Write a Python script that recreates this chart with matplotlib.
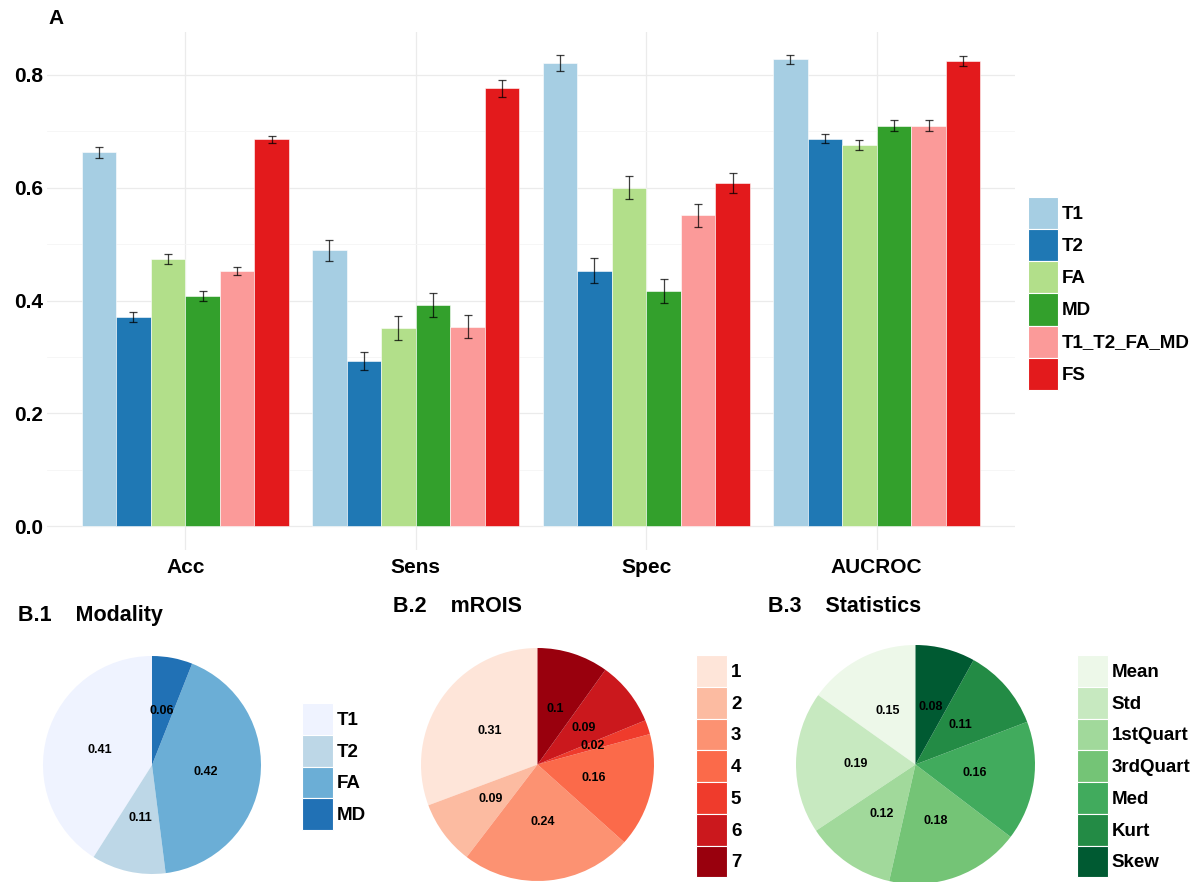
import matplotlib
matplotlib.use("Agg")
import matplotlib.pyplot as plt
import numpy as np
from matplotlib.patches import Patch

plt.rcParams['font.family'] = ['Liberation Sans', 'DejaVu Sans']
plt.rcParams['font.weight'] = 'bold'

W, H = 1199, 882

# panel A: classification metrics per feature set
metrics = ["Acc", "Sens", "Spec", "AUCROC"]
feature_sets = ["T1", "T2", "FA", "MD", "T1_T2_FA_MD", "FS"]
set_colors = ["#A6CEE3", "#1F78B4", "#B2DF8A", "#33A02C", "#FB9A99", "#E31A1C"]
means = {
    "T1":          [0.663, 0.489, 0.821, 0.828],
    "T2":          [0.371, 0.293, 0.453, 0.687],
    "FA":          [0.473, 0.351, 0.600, 0.675],
    "MD":          [0.408, 0.392, 0.417, 0.710],
    "T1_T2_FA_MD": [0.453, 0.354, 0.551, 0.710],
    "FS":          [0.686, 0.776, 0.608, 0.825],
}
errors = {
    "T1":          [0.010, 0.018, 0.014, 0.008],
    "T2":          [0.009, 0.016, 0.022, 0.008],
    "FA":          [0.009, 0.021, 0.020, 0.009],
    "MD":          [0.009, 0.021, 0.022, 0.010],
    "T1_T2_FA_MD": [0.007, 0.020, 0.021, 0.010],
    "FS":          [0.006, 0.015, 0.018, 0.009],
}

# panel B: feature importance shares
modality_names = ["T1", "T2", "FA", "MD"]
modality_vals = [0.41, 0.11, 0.42, 0.06]
modality_colors = ["#EFF3FF", "#BDD7E7", "#6BAED6", "#2171B5"]

roi_names = ["1", "2", "3", "4", "5", "6", "7"]
roi_vals = [0.31, 0.09, 0.24, 0.16, 0.02, 0.09, 0.1]
roi_colors = ["#FEE5D9", "#FCBBA1", "#FC9272", "#FB6A4A", "#EF3B2C", "#CB181D", "#99000D"]

stat_names = ["Mean", "Std", "1stQuart", "3rdQuart", "Med", "Kurt", "Skew"]
stat_vals = [0.15, 0.19, 0.12, 0.18, 0.16, 0.11, 0.08]
stat_colors = ["#EDF8E9", "#C7E9C0", "#A1D99B", "#74C476", "#41AB5D", "#238B45", "#005A32"]

fig = plt.figure(figsize=(W / 100, H / 100), dpi=100)

# ---- bar chart ----
ax = fig.add_axes([47 / W, 1 - 550 / H, (1015 - 47) / W, (550 - 32) / H])
x = np.arange(1, len(metrics) + 1)
bw = 0.15
for i, (name, col) in enumerate(zip(feature_sets, set_colors)):
    pos = x + (i - 2.5) * bw
    ax.bar(pos, means[name], width=bw, color=col, edgecolor="white",
           linewidth=0.4, zorder=2)
    ax.errorbar(pos, means[name], yerr=errors[name], fmt="none", ecolor="black",
                elinewidth=0.9, capsize=3.2, capthick=0.9, alpha=0.75, zorder=3)

ax.set_xlim(0.4, 4.6)
ax.set_ylim(-0.042, 0.876)
ax.set_xticks(x)
ax.set_xticklabels(metrics)
ax.set_yticks([0.0, 0.2, 0.4, 0.6, 0.8])
ax.set_yticklabels(["0.0", "0.2", "0.4", "0.6", "0.8"])
ax.set_yticks(np.arange(0.1, 0.9, 0.2), minor=True)
ax.grid(axis="y", which="major", color="#EBEBEB", linewidth=0.9, zorder=0)
ax.grid(axis="y", which="minor", color="#F5F5F5", linewidth=0.6, zorder=0)
ax.grid(axis="x", which="major", color="#EBEBEB", linewidth=0.9, zorder=0)
ax.tick_params(axis="both", which="both", length=0, labelsize=15)
ax.tick_params(axis="x", pad=6)
ax.tick_params(axis="y", pad=3)
for s in ax.spines.values():
    s.set_visible(False)
ax.set_axisbelow(True)

fig.text(48 / W, 1 - 18 / H, "A", fontsize=15, fontweight="bold", va="center")

handles = [Patch(facecolor=c, edgecolor="white", linewidth=0.8) for c in set_colors]
fig.legend(handles, feature_sets, loc="upper left",
           bbox_to_anchor=(1028 / W, 1 - 197 / H), frameon=False, fontsize=13.5,
           handlelength=1.61, handleheight=2.26, labelspacing=0,
           handletextpad=0.2, borderpad=0, borderaxespad=0)


# ---- pie charts ----
def pie_panel(cx, cy, r, vals, names, colors, title, tx, ty, lx, ltop):
    pax = fig.add_axes([(cx - r) / W, 1 - (cy + r) / H, 2 * r / W, 2 * r / H])
    pax.pie(vals, colors=colors, startangle=90, counterclock=True, radius=1,
            labels=[f"{v:g}" for v in vals], labeldistance=0.5,
            wedgeprops=dict(linewidth=0),
            textprops=dict(fontsize=9, fontweight="bold", ha="center",
                           va="center", color="black"))
    pax.set_xlim(-1, 1)
    pax.set_ylim(-1, 1)
    pax.axis("off")
    fig.text(tx / W, 1 - ty / H, title, fontsize=15.5, fontweight="bold", va="center")
    hs = [Patch(facecolor=c, edgecolor="white", linewidth=0.8) for c in colors]
    fig.legend(hs, names, loc="upper left", bbox_to_anchor=(lx / W, 1 - ltop / H),
               frameon=False, fontsize=13.5, handlelength=1.66, handleheight=2.23,
               labelspacing=0, handletextpad=0.2, borderpad=0, borderaxespad=0)


pie_panel(152, 765, 109, modality_vals, modality_names, modality_colors,
          "B.1    Modality", 18, 616, 302, 703)
pie_panel(537.5, 764.5, 116.5, roi_vals, roi_names, roi_colors,
          "B.2    mROIS", 393, 606, 696, 655)
pie_panel(915.5, 764.5, 119.5, stat_vals, stat_names, stat_colors,
          "B.3    Statistics", 768, 606, 1077, 655)

fig.savefig("out.png", dpi=100)
